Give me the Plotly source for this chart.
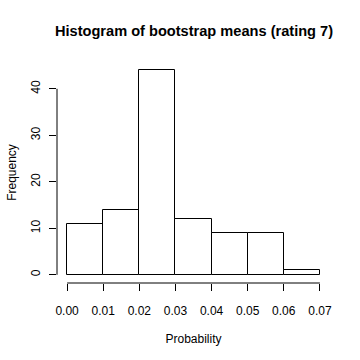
import plotly.graph_objects as go

bin_starts = [0.00, 0.01, 0.02, 0.03, 0.04, 0.05, 0.06]
counts = [11, 14, 44, 12, 9, 9, 1]
bin_width = 0.01
x_ticks = [0.00, 0.01, 0.02, 0.03, 0.04, 0.05, 0.06, 0.07]
x_tick_labels = ["0.00", "0.01", "0.02", "0.03", "0.04", "0.05", "0.06", "0.07"]
y_ticks = [0, 10, 20, 30, 40]

mids = [s + bin_width / 2 for s in bin_starts]

fig = go.Figure()
fig.add_trace(go.Bar(
    x=mids, y=counts, width=[bin_width] * len(mids),
    marker=dict(color="white", line=dict(color="black", width=1)),
    showlegend=False,
))

font = "Liberation Sans, Arial, Helvetica, sans-serif"
fig.update_layout(
    width=360, height=360,
    margin=dict(l=57, r=30, t=62, b=77),
    paper_bgcolor="white", plot_bgcolor="white",
    font=dict(family=font, size=12, color="black"),
    title=dict(text="<b>Histogram of bootstrap means (rating 7)</b>",
               x=194 / 360, xanchor="center",
               y=1 - 31 / 360, yanchor="middle",
               font=dict(size=14.6, family=font, color="black")),
    bargap=0,
    xaxis=dict(range=[-0.0028, 0.0728], tickvals=x_ticks, ticktext=x_tick_labels,
               ticks="outside", ticklen=7, tickcolor="black", showgrid=False,
               zeroline=False, showline=False, automargin=False,
               ticklabelstandoff=10,
               title=dict(text="Probability", standoff=17, font=dict(size=12))),
    yaxis=dict(range=[-1.76, 45.76], tickvals=y_ticks, tickangle=-90,
               ticks="outside", ticklen=7, tickcolor="black", showgrid=False,
               zeroline=False, showline=False, automargin=False,
               ticklabelstandoff=4,
               title=dict(text="Frequency", standoff=10, font=dict(size=12))),
    shapes=[
        dict(type="line", xref="x", yref="paper", x0=0, x1=0.07, y0=0, y1=0,
             line=dict(color="black", width=1)),
        dict(type="line", xref="paper", yref="y", x0=0, x1=0, y0=0, y1=40,
             line=dict(color="black", width=1)),
    ],
)

fig.write_html("out.html", config={"displayModeBar": False},
               post_script="document.body.style.margin='0';")
